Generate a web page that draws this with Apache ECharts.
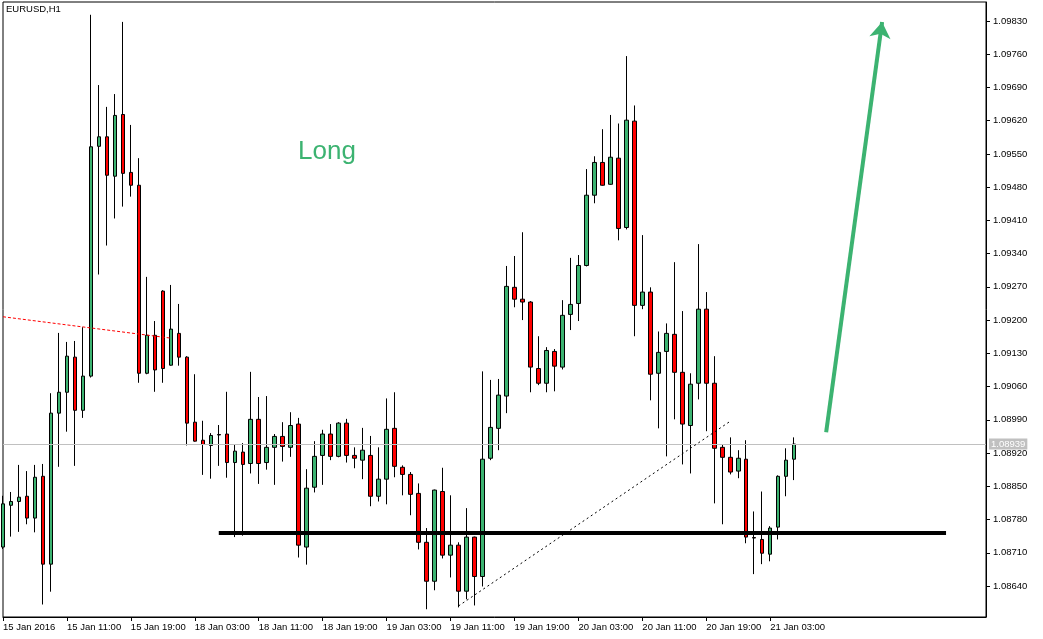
<!DOCTYPE html>
<html><head><meta charset="utf-8">
<script src="https://cdn.jsdelivr.net/npm/echarts@6/dist/echarts.min.js"></script>
<style>html,body{margin:0;padding:0;background:#fff}#c{width:1043px;height:639px}</style>
</head><body><div id="c"></div>
<script>
const chartTitle = 'EURUSD,H1';
const annotationText = 'Long';

const opens = [
1.08722,1.08810,1.08818,1.08829,1.08783,1.08871,1.08686,1.09004,1.09048,1.09122,
1.09010,1.09082,1.09566,1.09586,1.09503,1.09633,1.09511,1.09484,1.09088,1.09168,
1.09261,1.09105,1.09172,1.09122,1.08985,1.08947,1.08936,1.08959,1.08960,1.08900,
1.08922,1.08898,1.08991,1.08900,1.08932,1.08955,1.08932,1.08981,1.08722,1.08848,
1.08915,1.08960,1.08913,1.08983,1.08915,1.08905,1.08915,1.08829,1.08865,1.08972,
1.08890,1.08875,1.08835,1.08732,1.08650,1.08839,1.08705,1.08726,1.08629,1.08743,
1.08660,1.08909,1.08972,1.09040,1.09269,1.09244,1.09238,1.09098,1.09067,1.09134,
1.09101,1.09212,1.09235,1.09315,1.09463,1.09532,1.09486,1.09541,1.09395,1.09619,
1.09231,1.09259,1.09088,1.09134,1.09170,1.09090,1.08978,1.09067,1.09223,1.09067,
1.08932,1.08911,1.08882,1.08907,1.08742,1.08738,1.08707,1.08764,1.08871,1.08907];

const closes = [
1.08813,1.08818,1.08827,1.08783,1.08869,1.08686,1.09004,1.09048,1.09124,1.09010,
1.09082,1.09565,1.09586,1.09505,1.09631,1.09509,1.09484,1.09088,1.09168,1.09095,
1.09098,1.09181,1.09122,1.08983,1.08945,1.08938,1.08957,1.08958,1.08900,1.08924,
1.08896,1.08991,1.08898,1.08932,1.08955,1.08934,1.08978,1.08726,1.08846,1.08913,
1.08960,1.08913,1.08983,1.08915,1.08909,1.08926,1.08829,1.08865,1.08970,1.08892,
1.08875,1.08833,1.08732,1.08650,1.08842,1.08705,1.08726,1.08629,1.08743,1.08660,
1.08907,1.08974,1.09042,1.09271,1.09244,1.09238,1.09101,1.09067,1.09136,1.09103,
1.09210,1.09233,1.09315,1.09463,1.09532,1.09484,1.09543,1.09393,1.09621,1.09231,
1.09259,1.09086,1.09132,1.09172,1.09090,1.08981,1.09065,1.09223,1.09067,1.08930,
1.08911,1.08880,1.08909,1.08743,1.08741,1.08709,1.08762,1.08871,1.08905,1.08939];

const lows = [
1.08718,1.08744,1.08754,1.08770,1.08753,1.08601,1.08628,1.08891,1.08965,1.08893,
1.08994,1.09079,1.09296,1.09357,1.09414,1.09439,1.09460,1.09068,1.09086,1.09049,
1.09068,1.09104,1.09104,1.08936,1.08944,1.08874,1.08866,1.08893,1.08868,1.08743,
1.08746,1.08877,1.08855,1.08885,1.08853,1.08902,1.08912,1.08700,1.08685,1.08837,
1.08853,1.08905,1.08911,1.08900,1.08888,1.08865,1.08808,1.08818,1.08812,1.08869,
1.08831,1.08789,1.08717,1.08591,1.08631,1.08698,1.08658,1.08595,1.08612,1.08599,
1.08639,1.08905,1.08926,1.09004,1.09227,1.09200,1.09048,1.09063,1.09048,1.09050,
1.09096,1.09179,1.09198,1.09313,1.09446,1.09483,1.09485,1.09368,1.09391,1.09166,
1.09223,1.09031,1.08972,1.08913,1.08991,1.08896,1.08877,1.09033,1.08966,1.08814,
1.08770,1.08875,1.08867,1.08730,1.08665,1.08686,1.08692,1.08738,1.08829,1.08863];

const highs = [
1.08830,1.08838,1.08895,1.08882,1.08895,1.08897,1.09046,1.09173,1.09154,1.09156,
1.09185,1.09843,1.09695,1.09649,1.09676,1.09828,1.09611,1.09541,1.09291,1.09198,
1.09263,1.09274,1.09234,1.09124,1.09086,1.08988,1.08962,1.08979,1.09049,1.08938,
1.08941,1.09091,1.09038,1.09040,1.08960,1.08985,1.09006,1.08994,1.08886,1.08945,
1.08969,1.08981,1.08985,1.08992,1.08932,1.08973,1.08956,1.08932,1.09035,1.09048,
1.08894,1.08880,1.08856,1.08762,1.08843,1.08889,1.08831,1.08732,1.08804,1.08744,
1.09092,1.09074,1.09076,1.09314,1.09335,1.09385,1.09240,1.09166,1.09143,1.09139,
1.09242,1.09331,1.09337,1.09518,1.09545,1.09602,1.09632,1.09614,1.09756,1.09652,
1.09379,1.09269,1.09176,1.09193,1.09322,1.09219,1.09088,1.09360,1.09259,1.09124,
1.08938,1.08953,1.08926,1.08947,1.08797,1.08839,1.08766,1.08873,1.08930,1.08953];

const xTickLabels = ['15 Jan 2016','15 Jan 11:00','15 Jan 19:00','18 Jan 03:00','18 Jan 11:00',
  '18 Jan 19:00','19 Jan 03:00','19 Jan 11:00','19 Jan 19:00','20 Jan 03:00','20 Jan 11:00',
  '20 Jan 19:00','21 Jan 03:00'];
const yTicks = [1.08640,1.08710,1.08780,1.08850,1.08920,1.08990,1.09060,1.09130,1.09200,
  1.09270,1.09340,1.09410,1.09480,1.09550,1.09620,1.09690,1.09760,1.09830];

const lastPrice = 1.08939;
const supportLine = [[27, 1.08752], [118, 1.08752]];
const redTrend = [[0, 1.09207], [21, 1.09162]];
const blackTrend = [[57, 1.08598], [91, 1.08987]];
const longArrow = [[103, 1.08964], [110, 1.09828]];

// hourly categories (weekend skipped), then empty room to the right
const barCount = opens.length;
const totalSlots = 124;
const categories = [];
let day = 15, hour = 3;
for (let i = 0; i < barCount; i++) {
  categories.push(day + ' Jan ' + String(hour).padStart(2, '0') + ':00');
  hour++;
  if (hour === 24) { hour = 0; day = (day === 15) ? 18 : day + 1; }
}
while (categories.length < totalSlots) categories.push('');

const candleData = opens.map((o, i) => [o, closes[i], lows[i], highs[i]]);
const showTick = (idx) => idx % 8 === 0 && idx < barCount;
const FONT = 'Liberation Sans';

const chart = echarts.init(document.getElementById('c'));
chart.setOption({
  animation: false,
  backgroundColor: '#fff',
  grid: { left: 2, top: 2, width: 984, height: 615, show: true, borderColor: '#000', borderWidth: 1, backgroundColor: '#fff' },
  xAxis: {
    type: 'category', data: categories, boundaryGap: false,
    axisLine: { show: true, lineStyle: { color: '#000', width: 1 } },
    axisTick: { show: true, interval: showTick, length: 4, lineStyle: { color: '#000' } },
    axisLabel: {
      interval: showTick, align: 'left', margin: 5, color: '#000', fontSize: 9.5, fontFamily: FONT,
      formatter: (v, idx) => xTickLabels[Math.round(idx / 8)] || ''
    },
    splitLine: { show: false }
  },
  yAxis: {
    type: 'value', position: 'right', min: 1.085747, max: 1.098699, scale: true,
    axisLine: { show: true, lineStyle: { color: '#000', width: 1 } },
    axisTick: { show: true, length: 4, customValues: yTicks, lineStyle: { color: '#000' } },
    axisLabel: { customValues: yTicks, margin: 7, color: '#000', fontSize: 9.5, fontFamily: FONT,
      formatter: v => v.toFixed(5) },
    splitLine: { show: false }
  },
  graphic: [
    { type: 'text', left: 6, top: 4, style: { text: chartTitle, fill: '#000', fontSize: 9.5, fontFamily: FONT } },
    { type: 'text', left: 298, top: 139, style: { text: annotationText, fill: '#3cb371', fontSize: 26, fontFamily: FONT } }
  ],
  series: [{
    type: 'candlestick',
    data: candleData,
    barWidth: 4,
    itemStyle: { color: '#3cb371', color0: '#ff0000', borderColor: '#000', borderColor0: '#000', borderColorDoji: '#000', borderWidth: 1 },
    emphasis: { disabled: true },
    markLine: {
      silent: true, symbol: 'none', animation: false,
      label: { show: false },
      emphasis: { disabled: true },
      data: [
        [{ coord: [0, lastPrice], lineStyle: { color: '#c0c0c0', width: 1, type: 'solid' },
           label: { show: true, position: 'end', distance: 3, formatter: lastPrice.toFixed(5),
             color: '#fff', backgroundColor: '#c0c0c0', padding: [1, 2, 0, 2], fontSize: 9.5, fontFamily: FONT } },
         { coord: [totalSlots - 1, lastPrice] }],
        [{ coord: supportLine[0], lineStyle: { color: '#000', width: 4, type: 'solid' } }, { coord: supportLine[1] }],
        [{ coord: redTrend[0], lineStyle: { color: '#ff0000', width: 1, type: [3, 2] } }, { coord: redTrend[1] }],
        [{ coord: blackTrend[0], lineStyle: { color: '#000', width: 1, type: [2, 3] } }, { coord: blackTrend[1] }],
        [{ coord: longArrow[0], lineStyle: { color: '#3cb371', width: 4, type: 'solid' } },
         { coord: longArrow[1], symbol: 'arrow', symbolSize: 16 }]
      ]
    }
  }]
});
</script>
</body></html>
